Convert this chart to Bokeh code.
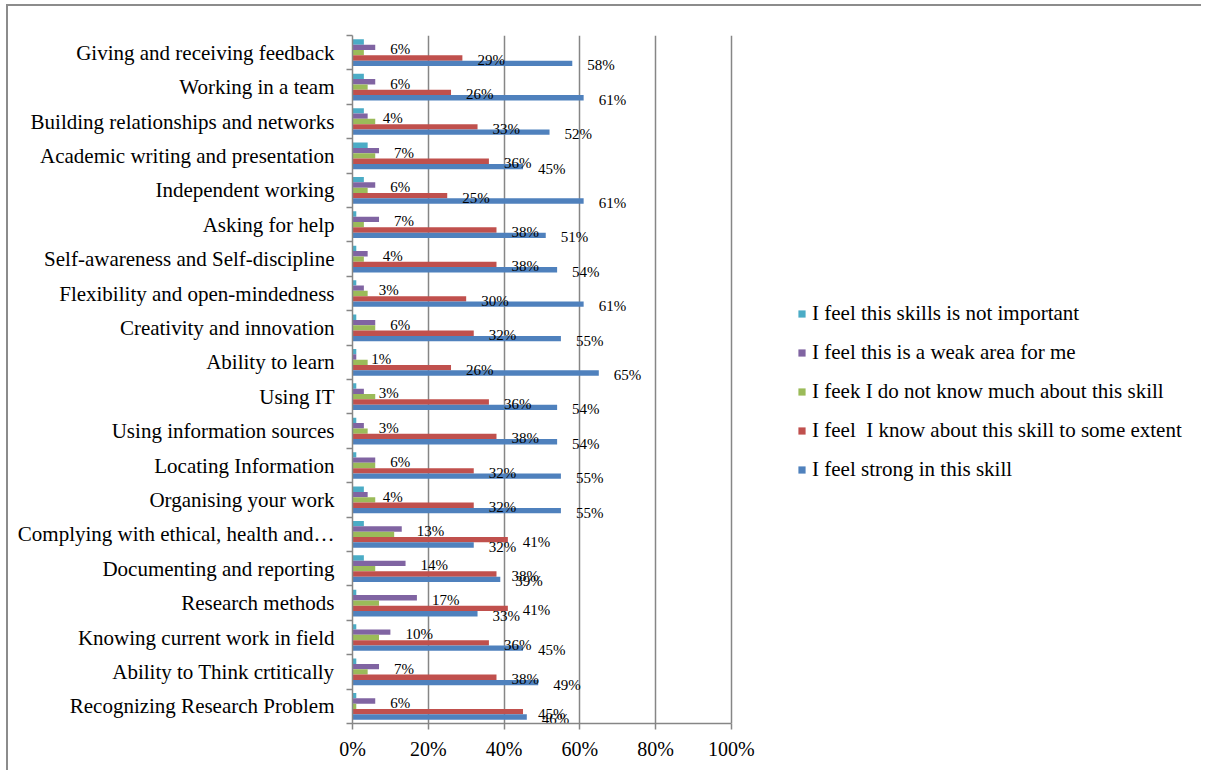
import numpy as np
from bokeh.plotting import figure
from bokeh.models import (ColumnDataSource, Range1d, FixedTicker, PrintfTickFormatter,
                          Legend, LegendItem)
from bokeh.core.properties import value
from bokeh.embed import file_html
from bokeh.resources import INLINE

# ---------------- data (top to bottom as in the chart) ----------------
skills = [
    "Giving and receiving feedback",
    "Working in a team",
    "Building relationships and networks",
    "Academic writing and presentation",
    "Independent working",
    "Asking for help",
    "Self-awareness and Self-discipline",
    "Flexibility and open-mindedness",
    "Creativity and innovation",
    "Ability to learn",
    "Using IT",
    "Using information sources",
    "Locating Information",
    "Organising your work",
    "Complying with ethical, health and\u2026",
    "Documenting and reporting",
    "Research methods",
    "Knowing current work in field",
    "Ability to Think crtitically",
    "Recognizing Research Problem",
]
not_important = [3, 3, 3, 4, 3, 1, 1, 1, 1, 1, 1, 1, 1, 3, 3, 3, 1, 1, 1, 1]
weak_area     = [6, 6, 4, 7, 6, 7, 4, 3, 6, 1, 3, 3, 6, 4, 13, 14, 17, 10, 7, 6]
dont_know     = [3, 4, 6, 6, 4, 3, 3, 4, 6, 4, 6, 4, 6, 6, 11, 6, 7, 7, 4, 1]
some_extent   = [29, 26, 33, 36, 25, 38, 38, 30, 32, 26, 36, 38, 32, 32, 41, 38, 41, 36, 38, 45]
strong        = [58, 61, 52, 45, 61, 51, 54, 61, 55, 65, 54, 54, 55, 55, 32, 39, 33, 45, 49, 46]

series_names = [
    "I feel this skills is not important",
    "I feel this is a weak area for me",
    "I feek I do not know much about this skill",
    "I feel\u00a0 I know about this skill to some extent",
    "I feel strong in this skill",
]
series_values = [not_important, weak_area, dont_know, some_extent, strong]
series_colors = ["#4BACC6", "#8064A2", "#9BBB59", "#C0504D", "#4F81BD"]
labelled = [False, True, False, True, True]
x_ticks = [0, 20, 40, 60, 80, 100]

# ---------------- figure ----------------
n = len(skills)
pos = np.arange(n)[::-1].astype(float)   # first skill at top
bar_h = 0.155
offsets = [2 * bar_h, bar_h, 0.0, -bar_h, -2 * bar_h]

SERIF = "Liberation Serif"
GRAY = "#868686"

p = figure(width=1195, height=766, output_backend="svg", toolbar_location=None,
           x_range=Range1d(0, 223), y_range=Range1d(-0.5, n - 0.5),
           min_border_left=344, min_border_top=29, min_border_bottom=49,
           min_border_right=6)
p.outline_line_color = None
p.background_fill_color = "white"
p.border_fill_color = "white"
p.styles = {"border-top": "2px solid #8c8c8c", "border-left": "2px solid #8c8c8c",
            "margin-left": "6px", "margin-top": "4px"}

# axes
p.xaxis.ticker = FixedTicker(ticks=x_ticks)
p.xaxis.bounds = (0, 100)
p.xaxis.formatter = PrintfTickFormatter(format="%d%%")
p.xaxis.axis_line_color = GRAY
p.xaxis.axis_line_width = 1.5
p.xaxis.major_tick_line_color = GRAY
p.xaxis.major_tick_line_width = 1.5
p.xaxis.major_tick_out = 6
p.xaxis.major_tick_in = 0
p.xaxis.minor_tick_line_color = None
p.xaxis.major_label_text_font = SERIF
p.xaxis.major_label_text_font_size = "20px"
p.xaxis.major_label_text_color = "black"
p.xaxis.major_label_standoff = 8

p.yaxis.ticker = FixedTicker(ticks=list(range(n)),
                             minor_ticks=[i - 0.5 for i in range(n + 1)])
p.yaxis.major_label_overrides = {int(pv): s for pv, s in zip(pos, skills)}
p.yaxis.axis_line_color = GRAY
p.yaxis.axis_line_width = 1.5
p.yaxis.major_tick_line_color = None
p.yaxis.major_tick_out = 0
p.yaxis.major_tick_in = 0
p.yaxis.minor_tick_line_color = GRAY
p.yaxis.minor_tick_line_width = 1.5
p.yaxis.minor_tick_out = 6
p.yaxis.minor_tick_in = 0
p.yaxis.major_label_text_font = SERIF
p.yaxis.major_label_text_font_size = "21px"
p.yaxis.major_label_text_color = "black"
p.yaxis.major_label_standoff = 12

p.xgrid.ticker = FixedTicker(ticks=x_ticks)
p.xgrid.grid_line_color = GRAY
p.xgrid.grid_line_width = 1.5
p.ygrid.grid_line_color = None

items = []
sources = []
for name, vals, col, off in zip(series_names, series_values, series_colors, offsets):
    src = ColumnDataSource(dict(
        y=pos + off,
        v=vals,
        t=[f"{v}%" for v in vals],
    ))
    sources.append(src)
    r = p.hbar(y="y", left=0, right="v", height=bar_h, source=src,
               fill_color=col, line_color=None)
    items.append(LegendItem(label=name, renderers=[r]))

for src, lab in zip(sources, labelled):
    if lab:
        p.text(x="v", y="y", text="t", source=src, text_font=value(SERIF),
               text_font_size="15px", text_color="black", text_align="left",
               text_baseline="middle", x_offset=15, y_offset=2)

legend = Legend(items=items, location=(445, 241), orientation="vertical",
                background_fill_alpha=0, border_line_color=None,
                padding=0, margin=0, spacing=14,
                glyph_width=9, glyph_height=9, label_height=24,
                label_standoff=6, label_text_font=SERIF,
                label_text_font_size="21px", label_text_color="black")
p.add_layout(legend, "center")

open("out.html", "w").write(file_html(p, INLINE))
